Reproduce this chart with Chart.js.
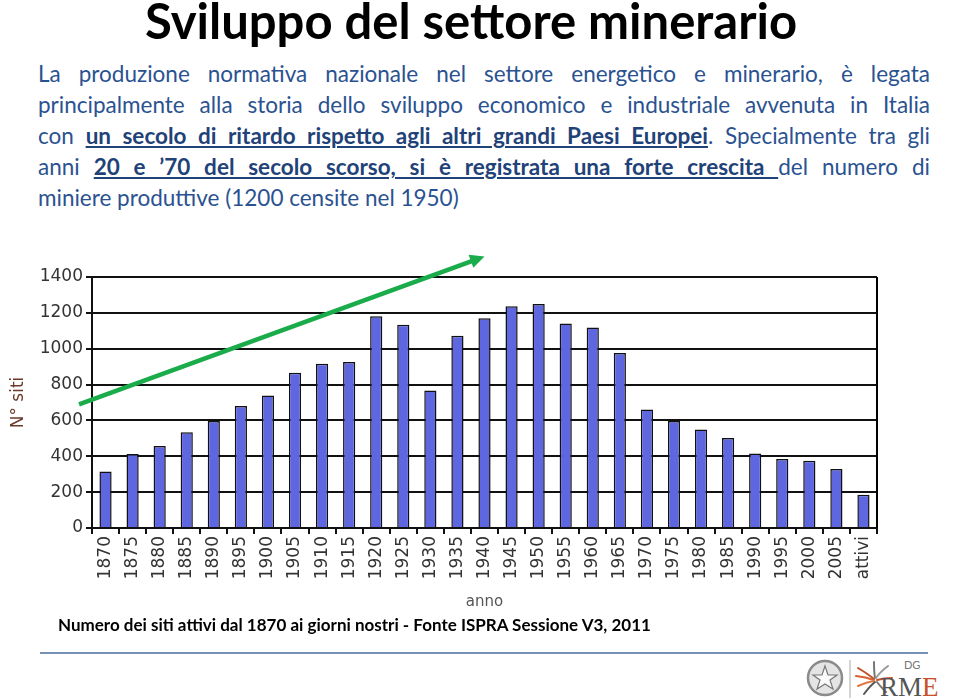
<!DOCTYPE html>
<html>
<head>
<meta charset="utf-8">
<script src="https://cdn.jsdelivr.net/npm/chart.js@4"></script>
<style>
  body { margin: 0; width: 960px; height: 700px; background: #fff; position: relative; overflow: hidden; font-family: Lato, "Open Sans", sans-serif; }
  #title { position: absolute; left: 0; width: 942px; top: -9px; text-align: center; font-weight: bold; font-size: 49px; color: #000; }
  #intro { position: absolute; left: 38px; width: 892px; top: 58px; font-size: 22.5px; line-height: 31px; color: #2a5291; }
  #intro div { text-align: justify; text-align-last: justify; white-space: nowrap; }
  #intro div.last { text-align-last: left; }
  #intro b { color: #1f4278; text-decoration: underline; }
  #wrap { position: absolute; left: 0; top: 250px; width: 900px; height: 365px; }
  #caption { position: absolute; left: 58px; top: 614px; font-size: 17px; font-weight: bold; color: #000; }
  #rule { position: absolute; left: 40px; top: 652px; width: 888px; height: 2px; background: #7691b5; }
  #logo { position: absolute; left: 802px; top: 656px; width: 158px; height: 44px; }
</style>
</head>
<body>
<div id="title">Sviluppo del settore minerario</div>
<div id="intro">
  <div>La produzione normativa nazionale nel settore energetico e minerario, è legata</div>
  <div>principalmente alla storia dello sviluppo economico e industriale avvenuta in Italia</div>
  <div>con <b>un secolo di ritardo rispetto agli altri grandi Paesi Europei</b>. Specialmente tra gli</div>
  <div>anni <b>20 e ’70 del secolo scorso, si è registrata una forte crescita </b>del numero di</div>
  <div class="last">miniere produttive (1200 censite nel 1950)</div>
</div>
<div id="wrap"><canvas id="chart"></canvas></div>
<div id="caption">Numero dei siti attivi dal 1870 ai giorni nostri - Fonte ISPRA Sessione V3, 2011</div>
<div id="rule"></div>
<svg id="logo" viewBox="0 0 158 44">
  <circle cx="23" cy="22" r="17" fill="#e4e4e4" stroke="#8a8a8a" stroke-width="2.5"/>
  <polygon points="23,10 26,19 35,19 28,24 31,33 23,28 15,33 18,24 11,19 20,19" fill="#fafafa" stroke="#777" stroke-width="1.2"/>
  <line x1="48" y1="4" x2="48" y2="42" stroke="#aaa" stroke-width="1"/>
  <g stroke-width="2" fill="none" stroke-linecap="round">
    <path d="M56 12 Q66 18 72 23" stroke="#c0502a"/>
    <path d="M54 20 Q64 21 72 24" stroke="#d8612f"/>
    <path d="M56 30 Q65 26 72 25" stroke="#e07a45"/>
    <path d="M62 38 Q68 30 73 26" stroke="#555"/>
    <path d="M72 6 Q72 16 73 22" stroke="#777"/>
    <path d="M86 10 Q78 16 74 22" stroke="#999"/>
    <path d="M90 22 Q82 22 75 24" stroke="#c0502a"/>
    <path d="M84 36 Q78 30 75 26" stroke="#777"/>
  </g>
  <text x="102" y="13" font-family="Lato, sans-serif" font-size="11" fill="#777">DG</text>
  <text x="78" y="40" font-family="Liberation Serif, serif" font-size="27" fill="#555">RM<tspan fill="#c8502a">E</tspan></text>
</svg>
<script>
const anni = ['1870','1875','1880','1885','1890','1895','1900','1905','1910','1915',
  '1920','1925','1930','1935','1940','1945','1950','1955','1960','1965',
  '1970','1975','1980','1985','1990','1995','2000','2005','attivi'];
const siti = [315, 413, 457, 534, 597, 681, 739, 866, 916, 926,
  1181, 1133, 767, 1073, 1170, 1237, 1249, 1140, 1118, 976,
  661, 597, 549, 502, 416, 385, 375, 329, 185];
const yTicks = [0, 200, 400, 600, 800, 1000, 1200, 1400];
// freccia verde: estremi in unità dati (indice categoria, n° siti)
const frecciaDa = { x: -0.98, y: 690 };
const frecciaA = { x: 14.0, y: 1515 };

const tickFont = { family: "'DejaVu Sans', sans-serif", size: 17 };

const cornice = {
  id: 'cornice',
  afterDraw(chart) {
    const { ctx, chartArea: a, scales } = chart;
    ctx.save();
    ctx.strokeStyle = '#000';
    ctx.lineWidth = 2;
    ctx.beginPath();
    ctx.moveTo(a.right, a.top);
    ctx.lineTo(a.right, a.bottom);
    ctx.stroke();
    // freccia
    const x1 = scales.x.getPixelForValue(frecciaDa.x), y1 = scales.y.getPixelForValue(frecciaDa.y);
    const x2 = scales.x.getPixelForValue(frecciaA.x), y2 = scales.y.getPixelForValue(frecciaA.y);
    const ang = Math.atan2(y2 - y1, x2 - x1);
    const head = 16;
    ctx.strokeStyle = '#1aab4a';
    ctx.fillStyle = '#1aab4a';
    ctx.lineWidth = 4.5;
    ctx.beginPath();
    ctx.moveTo(x1, y1);
    ctx.lineTo(x2 - head * 0.8 * Math.cos(ang), y2 - head * 0.8 * Math.sin(ang));
    ctx.stroke();
    ctx.beginPath();
    ctx.moveTo(x2, y2);
    ctx.lineTo(x2 - head * Math.cos(ang - 0.45), y2 - head * Math.sin(ang - 0.45));
    ctx.lineTo(x2 - head * Math.cos(ang + 0.45), y2 - head * Math.sin(ang + 0.45));
    ctx.closePath();
    ctx.fill();
    ctx.restore();
  }
};

new Chart(document.getElementById('chart'), {
  type: 'bar',
  data: {
    labels: anni,
    datasets: [{
      data: siti,
      backgroundColor: '#5e66e0',
      borderColor: '#111',
      borderWidth: 1.5,
      categoryPercentage: 1,
      barPercentage: 0.45
    }]
  },
  options: {
    responsive: true,
    maintainAspectRatio: false,
    animation: false,
    layout: { padding: { top: 27, right: 23, left: 0, bottom: 0 } },
    plugins: { legend: { display: false }, tooltip: { enabled: false } },
    scales: {
      y: {
        min: 0, max: 1400,
        afterBuildTicks(scale) { scale.ticks = yTicks.map(v => ({ value: v })); },
        afterFit(scale) { scale.width = 92; },
        grid: { color: '#111', lineWidth: 2, tickLength: 6, tickColor: '#111' },
        border: { color: '#111', width: 2 },
        ticks: { color: '#333', font: tickFont, padding: 3, callback: v => String(v) },
        title: { display: true, text: 'N° siti', color: '#6b3a2a', font: { family: "'DejaVu Sans', sans-serif", size: 17 }, padding: { top: 8, bottom: 2 } }
      },
      x: {
        afterFit(scale) { scale.height = 87; },
        grid: { drawOnChartArea: false, drawTicks: true, tickLength: 6, tickColor: '#111', lineWidth: 2 },
        border: { color: '#111', width: 2 },
        ticks: { color: '#333', font: tickFont, minRotation: 90, maxRotation: 90, padding: 2, autoSkip: false },
        title: { display: true, text: 'anno', color: '#555', font: { family: "'DejaVu Sans', sans-serif", size: 15 }, padding: { top: 4 } }
      }
    }
  },
  plugins: [cornice]
});
</script>
</body>
</html>
